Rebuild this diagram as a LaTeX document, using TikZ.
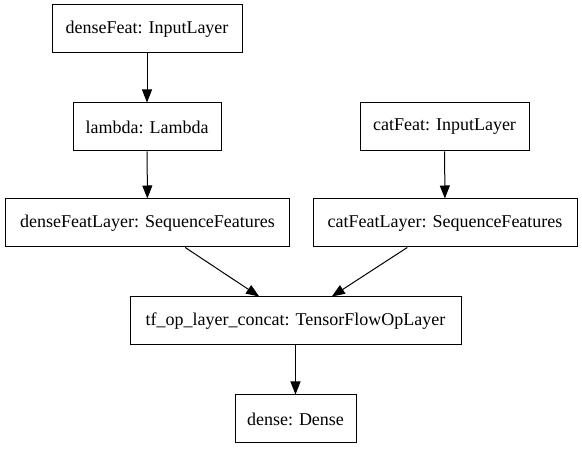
\documentclass[tikz,border=0pt]{standalone}
\usepackage{fontspec}
\setmainfont{Liberation Serif}
\usetikzlibrary{arrows.meta}
\begin{document}
\begin{tikzpicture}[x=1pt,y=-1pt,
		layer/.style={draw,line width=1pt,minimum height=48pt,inner xsep=0pt,font=\fontsize{18}{21}\selectfont},
		flow/.style={line width=1pt,-{Triangle[length=13pt,width=10pt]}}]
		\useasboundingbox (0,0) rectangle (582,449);
		\node[layer,minimum width=190pt] (densein) at (147,29) {denseFeat: InputLayer};
		\node[layer,minimum width=148pt] (lambda) at (147,127) {lambda: Lambda};
		\node[layer,minimum width=169pt] (catin) at (444.5,127) {catFeat: InputLayer};
		\node[layer,minimum width=284pt] (denselayer) at (147.5,223) {denseFeatLayer: SequenceFeatures};
		\node[layer,minimum width=264pt] (catlayer) at (445,223) {catFeatLayer: SequenceFeatures};
		\node[layer,minimum width=331pt] (concat) at (295.5,321) {tf\_op\_layer\_concat: TensorFlowOpLayer};
		\node[layer,minimum width=121pt] (dense) at (295.5,419) {dense: Dense};
		\draw[flow] (densein) -- (lambda);
		\draw[flow] (lambda) -- (denselayer);
		\draw[flow] (catin) -- (catlayer);
		\draw[flow] (denselayer.-33) -- (concat.146);
		\draw[flow] (catlayer.-147) -- (concat.34);
		\draw[flow] (concat) -- (dense);
	\end{tikzpicture}
\end{document}
